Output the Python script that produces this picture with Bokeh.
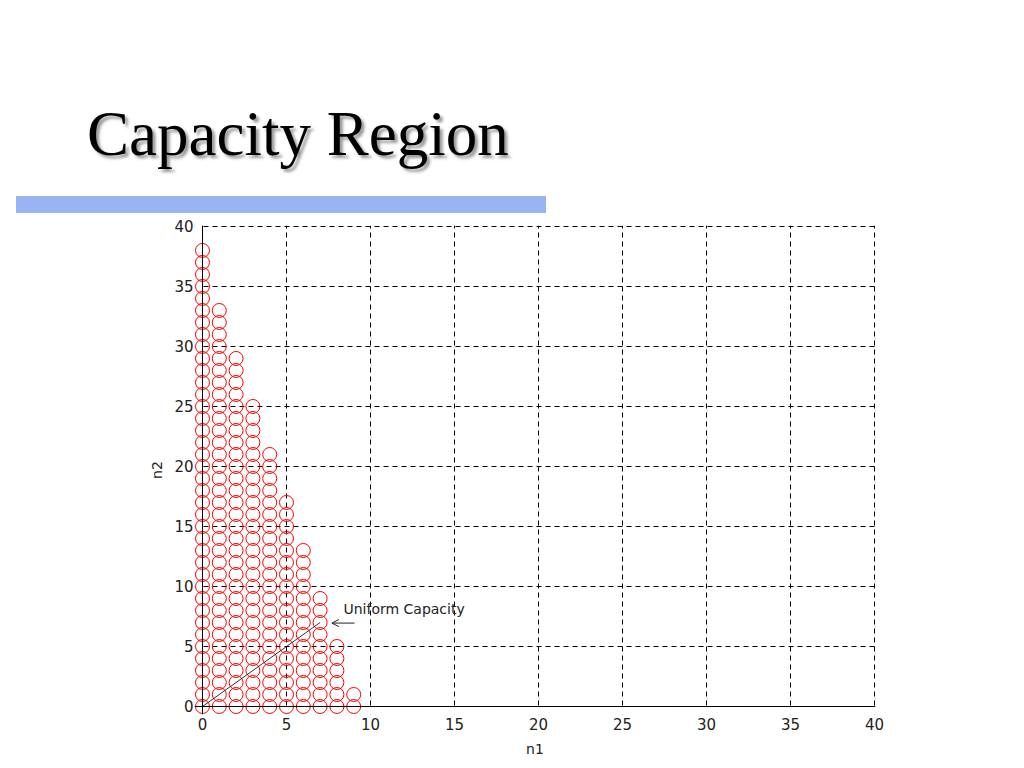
from bokeh.plotting import figure
from bokeh.models import Div, Label, Arrow, OpenHead, FixedTicker, Span
from bokeh.layouts import column
from bokeh.embed import file_html
from bokeh.resources import INLINE

# capacity region: for each n1, largest n2 that still fits
n1_values = [0, 1, 2, 3, 4, 5, 6, 7, 8, 9]
n2_max = [38, 33, 29, 25, 21, 17, 13, 9, 5, 1]

# uniform capacity line
uniform_x = [0, 7]
uniform_y = [0, 7]

ticks = [0, 5, 10, 15, 20, 25, 30, 35, 40]

xs, ys = [], []
for n1, top in zip(n1_values, n2_max):
    for n2 in range(top + 1):
        xs.append(n1)
        ys.append(n2)

header = Div(
    text="""<div style="position:relative;width:1008px;height:206px">
<div style="position:absolute;left:82px;top:98px;font-family:'Liberation Serif';font-size:63px;line-height:63px;color:#000;text-shadow:3px 3px 3px #999;white-space:nowrap">Capacity Region</div>
<div style="position:absolute;left:11px;top:191px;width:530px;height:17px;background:#99b3f5"></div>
</div>""",
    width=1008, height=206)

# a little room left of / below zero so the circles on the axes are not cut
x0, y0 = -0.476, -0.667
x1, y1 = 40.06, 40.08

p = figure(width=1008, height=546, x_range=(x0, x1), y_range=(y0, y1),
           output_backend="svg", toolbar_location=None,
           min_border_left=194, min_border_right=133,
           min_border_top=9, min_border_bottom=48,
           x_axis_label="n1", y_axis_label="n2")

p.grid.grid_line_color = "black"
p.grid.grid_line_dash = "5 4"
p.grid.grid_line_width = 1
p.outline_line_color = None

# blank out the strips left of / below the axes
p.quad(left=[x0, x0], right=[0, x1], bottom=[y0, y0], top=[y1, 0],
       fill_color="white", line_color=None)

p.scatter(xs, ys, marker="circle", size=14, fill_color=None,
          line_color="#ff0000", line_width=1)
p.line(uniform_x, uniform_y, line_color="black", line_width=0.8)

p.add_layout(Span(location=0, dimension="height", line_color="black", line_width=1))
p.add_layout(Span(location=0, dimension="width", line_color="black", line_width=1))

p.add_layout(Label(x=8.39, y=8.1, text="Uniform Capacity", text_font="DejaVu Sans",
                   text_font_size="14px", text_color="#222",
                   text_baseline="alphabetic"))
p.add_layout(Arrow(end=OpenHead(size=7, line_width=1, line_color="#222"),
                   x_start=9.05, y_start=6.95, x_end=7.7, y_end=6.95,
                   line_color="#222", line_width=1))

for ax in (p.xaxis, p.yaxis):
    ax.ticker = FixedTicker(ticks=ticks)
    ax.major_label_text_font = "DejaVu Sans"
    ax.major_label_text_font_size = "15px"
    ax.major_label_text_color = "#222"
    ax.axis_label_text_font = "DejaVu Sans"
    ax.axis_label_text_font_size = "14px"
    ax.axis_label_text_font_style = "normal"
    ax.axis_label_text_color = "#222"
    ax.axis_line_color = None
    ax.major_tick_line_color = None
    ax.minor_tick_line_color = None
    ax.major_tick_in = 0
    ax.major_tick_out = 0
p.xaxis.major_label_standoff = 3
p.yaxis.major_label_standoff = 1
p.xaxis.axis_label_standoff = 8
p.yaxis.axis_label_standoff = 6

p.background_fill_color = "white"
p.border_fill_color = "white"

layout = column(header, p)
open("out.html", "w").write(file_html(layout, INLINE))
